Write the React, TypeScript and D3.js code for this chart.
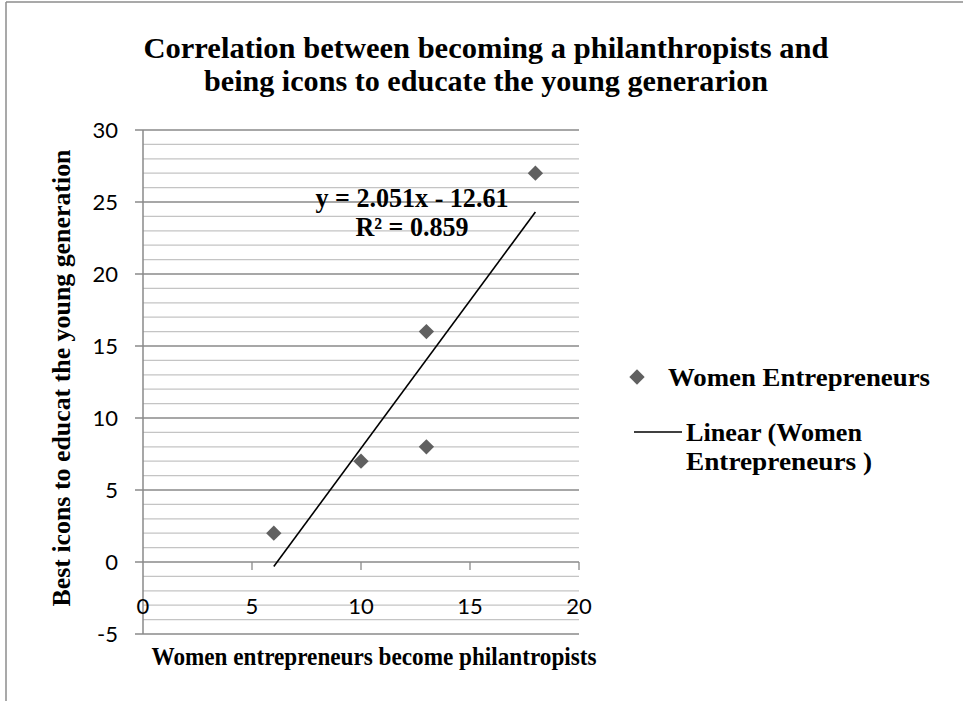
import React from "react";
import * as d3 from "d3";

const titleLines = [
  "Correlation between becoming a philanthropists and",
  "being icons to educate the young generarion",
];
const xAxisTitle = "Women entrepreneurs become philantropists";
const yAxisTitle = "Best icons to educat the young generation";
const seriesName = "Women Entrepreneurs";
const trendNameLines = ["Linear (Women", "Entrepreneurs )"];
const equationLines = ["y = 2.051x - 12.61", "R² = 0.859"];

const xValues = [6, 10, 13, 13, 18];
const yValues = [2, 7, 16, 8, 27];

const xTicks = [0, 5, 10, 15, 20];
const yMajorTicks = [-5, 0, 5, 10, 15, 20, 25, 30];
const yMinorTicks = d3.range(-5, 31, 1);

// linear regression from the data
function regression(xs: number[], ys: number[]) {
  const mx = d3.mean(xs)!;
  const my = d3.mean(ys)!;
  let sxy = 0, sxx = 0;
  xs.forEach((x, i) => {
    sxy += (x - mx) * (ys[i] - my);
    sxx += (x - mx) ** 2;
  });
  const slope = sxy / sxx;
  const intercept = my - slope * mx;
  return { slope, intercept };
}

export default function App() {
  const W = 963, H = 701;
  const x = d3.scaleLinear().domain([0, 20]).range([143, 579]);
  const y = d3.scaleLinear().domain([-5, 30]).range([634, 130]);
  const { slope, intercept } = regression(xValues, yValues);
  const xMin = d3.min(xValues)!, xMax = d3.max(xValues)!;
  const trend = d3.line<number>()
    .x((d) => x(d))
    .y((d) => y(slope * d + intercept))([xMin, xMax]);

  const serif = "'Liberation Serif', 'Times New Roman', serif";
  const sans = "Lato, 'Open Sans', sans-serif";
  const diamond = d3.symbol().type(d3.symbolDiamond2).size(150)();
  const markerColor = "#606060";

  return (
    <svg width={W} height={H} style={{ position: "absolute", left: 0, top: 0, background: "#fff" }}>
      <rect x={0} y={0} width={W} height={H} fill="#fff" />
      {/* outer border */}
      <line x1={6} y1={2} x2={W} y2={2} stroke="#8c8c8c" strokeWidth={1.5} />
      <line x1={6} y1={2} x2={6} y2={H} stroke="#8c8c8c" strokeWidth={1.5} />

      {/* title */}
      <g fontFamily={serif} fontWeight="bold" fontSize={30} fill="#000" textAnchor="middle">
        <text x={486} y={58} textLength={685} lengthAdjust="spacingAndGlyphs">{titleLines[0]}</text>
        <text x={486} y={91} textLength={564} lengthAdjust="spacingAndGlyphs">{titleLines[1]}</text>
      </g>

      {/* minor gridlines */}
      {yMinorTicks.filter((t) => t % 5 !== 0).map((t) => (
        <line key={"mn" + t} x1={x(0)} x2={x(20)} y1={y(t)} y2={y(t)} stroke="#c4c4c4" strokeWidth={1.3} />
      ))}
      {/* major gridlines with tick marks */}
      {yMajorTicks.map((t) => (
        <line key={"mj" + t} x1={x(0) - 8} x2={x(20)} y1={y(t)} y2={y(t)} stroke="#8a8a8a" strokeWidth={1.3} />
      ))}
      {/* y axis line */}
      <line x1={x(0)} x2={x(0)} y1={y(30)} y2={y(-5)} stroke="#8a8a8a" strokeWidth={1.5} />
      {/* x axis tick marks at y=0 */}
      {xTicks.filter((t) => t !== 0).map((t) => (
        <line key={"xt" + t} x1={x(t)} x2={x(t)} y1={y(0)} y2={y(0) + 8} stroke="#8a8a8a" strokeWidth={1.3} />
      ))}

      {/* y tick labels */}
      <g fontFamily={sans} fontSize={22} fill="#000" textAnchor="end">
        {yMajorTicks.map((t) => (
          <text key={"yl" + t} x={118} y={y(t)} dy="0.36em">{t}</text>
        ))}
      </g>
      {/* x tick labels */}
      <g fontFamily={sans} fontSize={22} fill="#000" textAnchor="middle">
        {xTicks.map((t) => (
          <text key={"xl" + t} x={x(t)} y={606} dy="0.36em">{t}</text>
        ))}
      </g>

      {/* trendline */}
      <path d={trend!} fill="none" stroke="#000" strokeWidth={1.6} />

      {/* points */}
      {xValues.map((v, i) => (
        <path key={"p" + i} d={diamond!} transform={`translate(${x(v)},${y(yValues[i])})`} fill={markerColor} />
      ))}

      {/* equation */}
      <g fontFamily={serif} fontWeight="bold" fontSize={27} fill="#000" textAnchor="middle">
        <text x={412} y={207} textLength={193} lengthAdjust="spacingAndGlyphs">{equationLines[0]}</text>
        <text x={412} y={236} textLength={113} lengthAdjust="spacingAndGlyphs">{equationLines[1]}</text>
      </g>

      {/* axis titles */}
      <text x={374} y={665} fontFamily={serif} fontWeight="bold" fontSize={26} textAnchor="middle"
        textLength={445} lengthAdjust="spacingAndGlyphs">{xAxisTitle}</text>
      <text transform="translate(70,378) rotate(-90)" fontFamily={serif} fontWeight="bold" fontSize={26}
        textAnchor="middle" textLength={457} lengthAdjust="spacingAndGlyphs">{yAxisTitle}</text>

      {/* legend */}
      <path d={diamond!} transform="translate(637,377)" fill={markerColor} />
      <g fontFamily={serif} fontWeight="bold" fontSize={26} fill="#000">
        <text x={668} y={386} textLength={262} lengthAdjust="spacingAndGlyphs">{seriesName}</text>
        <text x={686} y={441} textLength={176} lengthAdjust="spacingAndGlyphs">{trendNameLines[0]}</text>
        <text x={686} y={470} textLength={186} lengthAdjust="spacingAndGlyphs">{trendNameLines[1]}</text>
      </g>
      <line x1={634} x2={682} y1={432} y2={432} stroke="#000" strokeWidth={1.6} />
    </svg>
  );
}
